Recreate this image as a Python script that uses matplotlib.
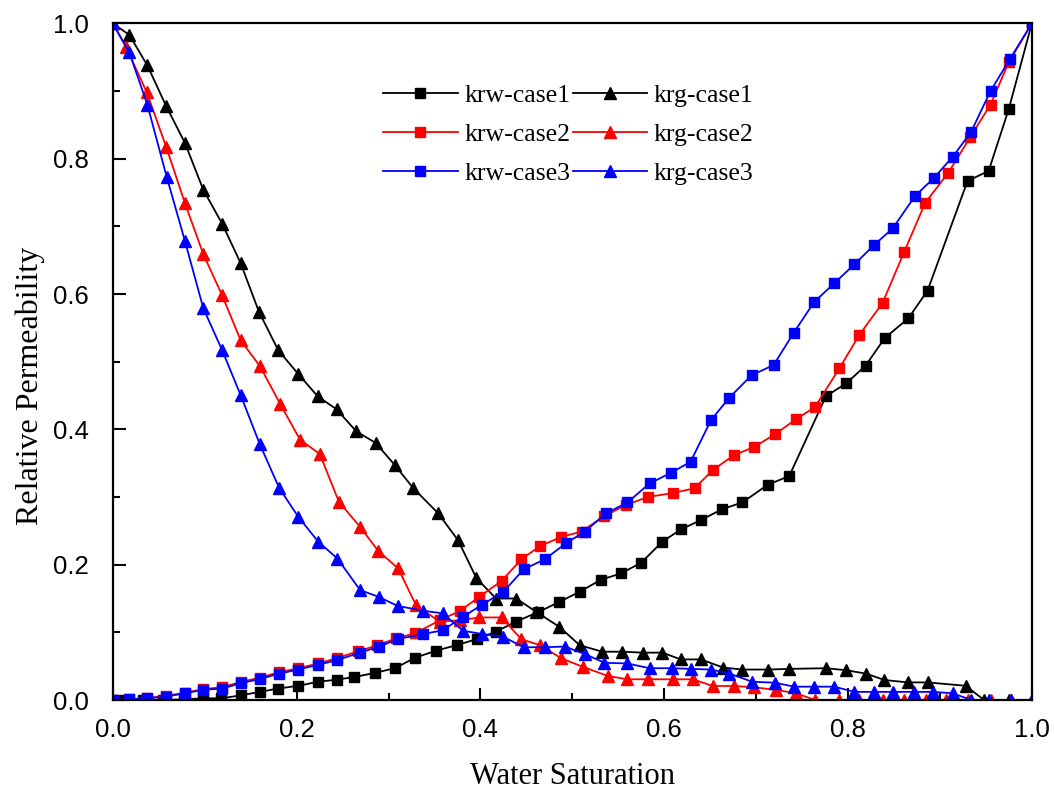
import matplotlib
matplotlib.use("Agg")
import matplotlib.pyplot as plt
from matplotlib.ticker import MultipleLocator

plt.rcParams["font.family"] = ["Liberation Serif", "DejaVu Serif"]

# krw / krg 数据
krw1_x = [0.0, 0.012, 0.033, 0.055, 0.077, 0.0985, 0.118, 0.140, 0.160, 0.180,
          0.202, 0.2235, 0.2435, 0.263, 0.285, 0.307, 0.329, 0.352, 0.374, 0.396,
          0.417, 0.439, 0.463, 0.486, 0.508, 0.5315, 0.553, 0.575, 0.598, 0.618,
          0.640, 0.663, 0.685, 0.7125, 0.736, 0.776, 0.798, 0.819, 0.840, 0.8655,
          0.8865, 0.930, 0.953, 0.975, 1.0]
krw1_y = [0.0, 0.0, 0.0, 0.0, 0.001, 0.0025, 0.0025, 0.007, 0.012, 0.017,
          0.021, 0.027, 0.030, 0.034, 0.040, 0.047, 0.0625, 0.073, 0.081, 0.090,
          0.101, 0.116, 0.130, 0.145, 0.160, 0.178, 0.187, 0.203, 0.234, 0.252,
          0.266, 0.282, 0.292, 0.318, 0.331, 0.449, 0.468, 0.494, 0.535, 0.564,
          0.605, 0.767, 0.782, 0.874, 1.0]

krg1_x = [0.0, 0.018, 0.0376, 0.058, 0.0786, 0.0985, 0.119, 0.139, 0.159, 0.180,
          0.2017, 0.2228, 0.2435, 0.265, 0.286, 0.307, 0.327, 0.354, 0.3757, 0.3957,
          0.417, 0.439, 0.461, 0.486, 0.508, 0.5326, 0.554, 0.577, 0.598, 0.618,
          0.640, 0.664, 0.685, 0.7126, 0.736, 0.776, 0.798, 0.8195, 0.8395, 0.865,
          0.8865, 0.928, 0.948, 0.975, 1.0]
krg1_y = [1.0, 0.983, 0.938, 0.878, 0.823, 0.754, 0.704, 0.646, 0.574, 0.517,
          0.482, 0.449, 0.4296, 0.397, 0.380, 0.347, 0.313, 0.276, 0.236, 0.180,
          0.150, 0.150, 0.130, 0.108, 0.081, 0.0714, 0.0714, 0.070, 0.070, 0.060,
          0.060, 0.048, 0.045, 0.045, 0.046, 0.047, 0.044, 0.039, 0.0296, 0.026,
          0.026, 0.021, 0.0, 0.0, 0.0]

krw2_x = [0.0, 0.018, 0.0376, 0.058, 0.0786, 0.0985, 0.119, 0.140, 0.160, 0.181,
          0.202, 0.2235, 0.244, 0.267, 0.288, 0.308, 0.329, 0.356, 0.3775, 0.399,
          0.423, 0.4446, 0.465, 0.488, 0.510, 0.535, 0.558, 0.582, 0.610, 0.633,
          0.653, 0.676, 0.698, 0.7207, 0.7435, 0.764, 0.7905, 0.812, 0.8376, 0.861,
          0.884, 0.909, 0.933, 0.955, 0.975, 1.0]
krw2_y = [0.0, 0.001, 0.003, 0.006, 0.011, 0.016, 0.019, 0.027, 0.033, 0.041,
          0.047, 0.054, 0.062, 0.072, 0.081, 0.091, 0.0986, 0.118, 0.1315, 0.1527,
          0.176, 0.208, 0.2276, 0.241, 0.249, 0.272, 0.288, 0.300, 0.306, 0.313,
          0.340, 0.362, 0.374, 0.393, 0.415, 0.433, 0.490, 0.539, 0.587, 0.662,
          0.735, 0.779, 0.832, 0.880, 0.943, 1.0]

krg2_x = [0.0, 0.0145, 0.037, 0.058, 0.0786, 0.0985, 0.119, 0.139, 0.160, 0.182,
          0.2036, 0.2253, 0.246, 0.269, 0.2887, 0.3104, 0.330, 0.3557, 0.3775, 0.399,
          0.423, 0.4446, 0.465, 0.488, 0.5115, 0.5387, 0.560, 0.582, 0.609, 0.631,
          0.653, 0.676, 0.698, 0.722, 0.7435, 0.764, 0.790, 0.812, 0.838, 0.861,
          0.885, 0.9065, 0.930, 0.955, 0.977, 1.0]
krg2_y = [1.0, 0.965, 0.898, 0.818, 0.734, 0.659, 0.598, 0.532, 0.4936, 0.438,
          0.385, 0.3635, 0.293, 0.256, 0.2206, 0.1946, 0.140, 0.1157, 0.118, 0.122,
          0.122, 0.0897, 0.081, 0.0616, 0.049, 0.0355, 0.0306, 0.0306, 0.0306, 0.0306,
          0.0207, 0.0207, 0.0188, 0.0148, 0.010, 0.0, 0.0, 0.0, 0.0, 0.0,
          0.0, 0.0, 0.0, 0.0, 0.0, 0.0]

krw3_x = [0.0, 0.018, 0.0376, 0.058, 0.0786, 0.0985, 0.119, 0.140, 0.160, 0.181,
          0.202, 0.2235, 0.244, 0.269, 0.290, 0.310, 0.3376, 0.359, 0.381, 0.402,
          0.425, 0.447, 0.470, 0.493, 0.5135, 0.537, 0.560, 0.584, 0.6076, 0.6286,
          0.651, 0.671, 0.695, 0.719, 0.741, 0.763, 0.785, 0.807, 0.828, 0.8485,
          0.873, 0.893, 0.914, 0.934, 0.955, 0.976, 1.0]
krw3_y = [0.0, 0.001, 0.0025, 0.005, 0.010, 0.015, 0.017, 0.025, 0.031, 0.039,
          0.045, 0.052, 0.059, 0.070, 0.079, 0.090, 0.0975, 0.103, 0.123, 0.141,
          0.160, 0.193, 0.208, 0.2315, 0.249, 0.276, 0.292, 0.320, 0.336, 0.352,
          0.414, 0.447, 0.480, 0.495, 0.543, 0.588, 0.616, 0.644, 0.672, 0.697,
          0.745, 0.771, 0.803, 0.840, 0.900, 0.947, 1.0]

krg3_x = [0.0, 0.018, 0.0376, 0.0587, 0.0786, 0.0985, 0.119, 0.139, 0.160, 0.181,
          0.2017, 0.2235, 0.2445, 0.269, 0.290, 0.310, 0.3376, 0.359, 0.381, 0.402,
          0.4246, 0.447, 0.470, 0.492, 0.5134, 0.535, 0.560, 0.584, 0.6087, 0.629,
          0.651, 0.671, 0.6957, 0.720, 0.7416, 0.763, 0.785, 0.807, 0.828, 0.8485,
          0.872, 0.892, 0.9137, 0.934, 0.9536, 0.977, 1.0]
krg3_y = [1.0, 0.957, 0.880, 0.773, 0.678, 0.579, 0.517, 0.451, 0.378, 0.3135,
          0.271, 0.234, 0.209, 0.1626, 0.152, 0.139, 0.132, 0.128, 0.1024, 0.0975,
          0.0936, 0.078, 0.078, 0.079, 0.068, 0.055, 0.054, 0.047, 0.047, 0.046,
          0.045, 0.039, 0.027, 0.0256, 0.0197, 0.0197, 0.0197, 0.012, 0.012, 0.012,
          0.012, 0.012, 0.010, 0.0, 0.0, 0.0, 0.0]

fig = plt.figure(figsize=(10.54, 7.96), dpi=100)
ax = fig.add_axes([0.107, 0.1206, 0.872, 0.850])

lw = 1.3
ms_sq = 7
ms_tri = 8.5
ax.plot(krw1_x, krw1_y, color="black", marker="s", ms=ms_sq, lw=lw, label="krw-case1")
ax.plot(krg1_x, krg1_y, color="black", marker="^", ms=ms_tri, lw=lw, label="krg-case1")
ax.plot(krw2_x, krw2_y, color="red", marker="s", ms=ms_sq, lw=lw, label="krw-case2")
ax.plot(krg2_x, krg2_y, color="red", marker="^", ms=ms_tri, lw=lw, label="krg-case2")
ax.plot(krw3_x, krw3_y, color="blue", marker="s", ms=ms_sq, lw=lw, label="krw-case3")
ax.plot(krg3_x, krg3_y, color="blue", marker="^", ms=ms_tri, lw=lw, label="krg-case3")

ax.set_xlim(0, 1)
ax.set_ylim(0, 1)
ax.xaxis.set_major_locator(MultipleLocator(0.2))
ax.xaxis.set_minor_locator(MultipleLocator(0.1))
ax.yaxis.set_major_locator(MultipleLocator(0.2))
ax.yaxis.set_minor_locator(MultipleLocator(0.1))
ax.tick_params(which="both", direction="in", width=1.5, top=False, right=False)
ax.tick_params(which="major", length=9)
ax.tick_params(which="minor", length=5)
for lab in ax.get_xticklabels() + ax.get_yticklabels():
    lab.set_family(["Liberation Sans", "DejaVu Sans"])
    lab.set_fontsize(18.5)
ax.tick_params(axis="x", pad=13)
ax.tick_params(axis="y", pad=17)
for sp in ax.spines.values():
    sp.set_linewidth(1.6)

ax.set_xlabel("Water Saturation", fontsize=22, labelpad=14)
ax.set_ylabel("Relative Permeability", fontsize=23)
ax.yaxis.set_label_coords(-0.074, 0.465)

h, l = ax.get_legend_handles_labels()
order = [0, 2, 4, 1, 3, 5]
ax.legend([h[i] for i in order], [l[i] for i in order], ncol=2, frameon=False,
          fontsize=18.5, handlelength=2.9, handletextpad=0.25, columnspacing=0.1,
          labelspacing=0.62, loc="upper left", bbox_to_anchor=(0.283, 0.925),
          borderaxespad=0)

fig.savefig("out.png", dpi=100)
